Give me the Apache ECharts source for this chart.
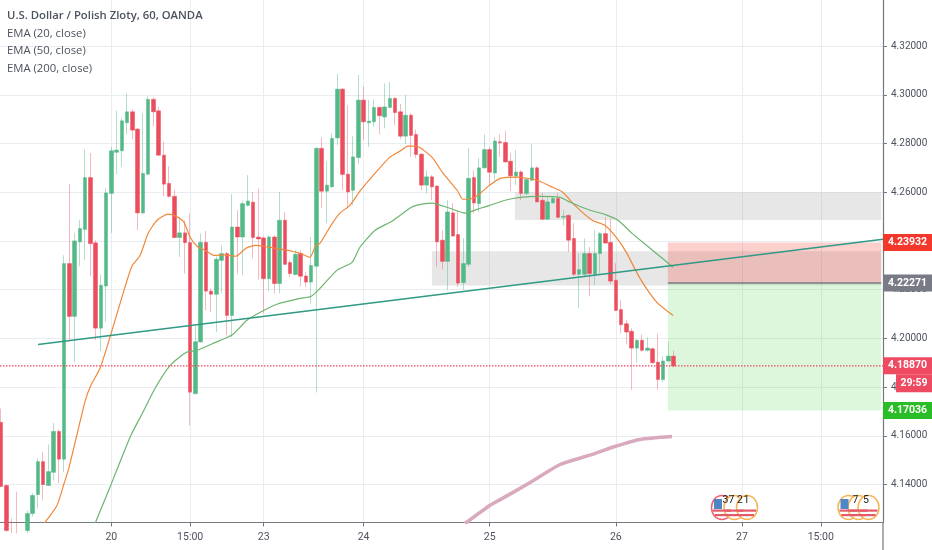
<!DOCTYPE html>
<html><head><meta charset="utf-8">
<style>html,body{margin:0;padding:0;background:#fff}#c{width:932px;height:550px}</style>
<script src="https://cdn.jsdelivr.net/npm/echarts@6/dist/echarts.min.js"></script>
</head><body><div id="c"></div>
<script>
const legendLines = ['U.S. Dollar / Polish Zloty, 60, OANDA','EMA (20, close)','EMA (50, close)','EMA (200, close)'];
const priceTicks = [4.14,4.16,4.18,4.20,4.22,4.24,4.26,4.28,4.30,4.32];
const timeTickIndex = [21,36,50,69,93,117,141,156];
const timeTickLabels = ['20','15:00','23','24','25','26','27','15:00'];
const open = [4.1655,4.1396,4.1227,4.1231,4.1225,4.1211,4.1281,4.1359,4.1494,4.1396,
4.1450,4.1618,4.1504,4.2307,4.2090,4.2396,4.2447,4.2660,4.2392,4.2042,
4.2215,4.2595,4.2764,4.2770,4.2885,4.2930,4.2859,4.2515,4.2674,4.2981,
4.2934,4.2752,4.2636,4.2583,4.2414,4.2433,4.2393,4.1773,4.1985,4.2394,
4.2194,4.2181,4.2320,4.2348,4.2094,4.2457,4.2416,4.2546,4.2559,4.2416,
4.2412,4.2245,4.2416,4.2225,4.2485,4.2311,4.2262,4.2349,4.2256,4.2231,
4.2296,4.2780,4.2604,4.2622,4.2823,4.3023,4.2674,4.2608,4.2742,4.2978,
4.2885,4.2889,4.2948,4.2909,4.2948,4.2985,4.2930,4.2830,4.2916,4.2837,
4.2756,4.2629,4.2663,4.2625,4.2403,4.2316,4.2515,4.2426,4.2229,4.2304,
4.2660,4.2553,4.2700,4.2775,4.2679,4.2807,4.2804,4.2727,4.2666,4.2683,
4.2595,4.2649,4.2700,4.2567,4.2489,4.2556,4.2574,4.2497,4.2505,4.2410,
4.2263,4.2263,4.2348,4.2263,4.2348,4.2430,4.2394,4.2238,4.2118,4.2060,
4.2029,4.1960,4.1992,4.1951,4.1957,4.1902,4.1831,4.1907,4.1927];
const close = [4.1392,4.1211,4.1202,4.1210,4.1215,4.1281,4.1355,4.1494,4.1400,4.1453,
4.1618,4.1504,4.2307,4.2090,4.2400,4.2451,4.2660,4.2389,4.2042,4.2218,
4.2597,4.2770,4.2773,4.2893,4.2930,4.2855,4.2515,4.2677,4.2981,4.2930,
4.2752,4.2633,4.2583,4.2414,4.2433,4.2393,4.1779,4.1986,4.2394,4.2194,
4.2181,4.2325,4.2348,4.2094,4.2457,4.2416,4.2553,4.2564,4.2414,4.2408,
4.2245,4.2416,4.2225,4.2485,4.2304,4.2266,4.2345,4.2255,4.2231,4.2299,
4.2780,4.2604,4.2629,4.2821,4.3023,4.2673,4.2601,4.2745,4.2978,4.2889,
4.2892,4.2948,4.2914,4.2950,4.2985,4.2927,4.2830,4.2916,4.2833,4.2755,
4.2629,4.2663,4.2622,4.2396,4.2316,4.2519,4.2420,4.2227,4.2307,4.2657,
4.2556,4.2700,4.2775,4.2682,4.2810,4.2803,4.2724,4.2667,4.2683,4.2595,
4.2652,4.2700,4.2560,4.2489,4.2560,4.2574,4.2497,4.2501,4.2403,4.2263,
4.2282,4.2348,4.2266,4.2348,4.2430,4.2391,4.2235,4.2115,4.2056,4.2026,
4.1960,4.1992,4.1951,4.1960,4.1900,4.1831,4.1907,4.1927,4.1887];
const low = [4.1390,4.1205,4.1200,4.1200,4.1200,4.1200,4.1268,4.1302,4.1334,4.1394,
4.1416,4.1405,4.1450,4.1992,4.1902,4.2296,4.2320,4.2255,4.1992,4.1948,
4.2067,4.2433,4.2674,4.2704,4.2838,4.2817,4.2444,4.2509,4.2670,4.2871,
4.2748,4.2583,4.2579,4.2411,4.2334,4.2266,4.1642,4.1770,4.1983,4.2115,
4.2108,4.2026,4.2185,4.2012,4.2005,4.2263,4.2259,4.2542,4.2329,4.2241,
4.2103,4.2194,4.2184,4.2185,4.2300,4.2252,4.2259,4.2214,4.2211,4.2142,
4.1778,4.2534,4.2473,4.2620,4.2793,4.2608,4.2534,4.2546,4.2715,4.2814,
4.2785,4.2868,4.2838,4.2862,4.2945,4.2875,4.2817,4.2797,4.2745,4.2740,
4.2608,4.2596,4.2567,4.2293,4.2282,4.2197,4.2419,4.2211,4.2200,4.2293,
4.2514,4.2519,4.2698,4.2629,4.2649,4.2745,4.2723,4.2605,4.2629,4.2567,
4.2588,4.2645,4.2559,4.2485,4.2485,4.2555,4.2493,4.2464,4.2355,4.2255,
4.2124,4.2255,4.2172,4.2218,4.2267,4.2390,4.2222,4.2111,4.2020,4.1975,
4.1789,4.1902,4.1946,4.1946,4.1897,4.1789,4.1820,4.1905,4.1881];
const high = [4.1712,4.1400,4.1260,4.1371,4.1235,4.1293,4.1364,4.1507,4.1535,4.1564,
4.1652,4.1626,4.2341,4.2633,4.2433,4.2485,4.2775,4.2761,4.2403,4.2263,
4.2616,4.2786,4.2934,4.2904,4.3006,4.2940,4.2863,4.2923,4.2994,4.2989,
4.2950,4.2807,4.2707,4.2608,4.2498,4.2485,4.2512,4.2053,4.2430,4.2441,
4.2205,4.2337,4.2382,4.2355,4.2592,4.2526,4.2564,4.2670,4.2601,4.2615,
4.2419,4.2423,4.2423,4.2601,4.2519,4.2320,4.2362,4.2362,4.2271,4.2416,
4.2786,4.2825,4.2727,4.2841,4.3085,4.3027,4.2957,4.2830,4.3081,4.3035,
4.2978,4.2981,4.2953,4.3047,4.3053,4.2990,4.2962,4.2999,4.2925,4.2858,
4.2760,4.2690,4.2670,4.2629,4.2444,4.2567,4.2556,4.2526,4.2411,4.2782,
4.2690,4.2740,4.2838,4.2785,4.2825,4.2838,4.2852,4.2760,4.2773,4.2690,
4.2657,4.2797,4.2707,4.2596,4.2579,4.2583,4.2596,4.2526,4.2509,4.2472,
4.2349,4.2410,4.2375,4.2444,4.2436,4.2497,4.2493,4.2308,4.2156,4.2074,
4.2041,4.1996,4.2016,4.2004,4.1963,4.2019,4.1926,4.1987,4.1950];
const ema20 = [[8.2,4.1240],[10.65,4.1314],[12,4.1404],[12.9,4.1466],[14.65,4.1622],[16,4.1741],[17.1,4.1807],[18.85,4.1877],[20.9,4.2016],[23,4.2168],[24.9,4.2296],[26.45,4.2339],[28,4.2431],[29.7,4.2485],[31.8,4.2510],[33.3,4.2501],[34.8,4.2477],[36,4.2415],[37.3,4.2378],[38.8,4.2362],[40.5,4.2341],[42.6,4.2343],[44.7,4.2337],[46.6,4.2370],[48.5,4.2382],[50,4.2378],[52.1,4.2370],[54.4,4.2362],[56.9,4.2349],[58.8,4.2333],[59.9,4.2382],[60.7,4.2390],[62.8,4.2464],[64.5,4.2514],[66.4,4.2546],[68.3,4.2604],[71.2,4.2678],[74,4.2744],[75.9,4.2768],[77.4,4.2789],[79,4.2789],[82,4.2744],[84.1,4.2678],[86.8,4.2608],[87.9,4.2571],[89.8,4.2575],[91.2,4.2596],[93,4.2629],[95,4.2657],[98.2,4.2662],[102,4.2649],[104.5,4.2625],[106.9,4.2600],[109.2,4.2546],[112.5,4.2485],[114.9,4.2464],[117.2,4.2411],[119.1,4.2349],[121.6,4.2246],[124.8,4.2148],[127.9,4.2094]];
const ema50 = [[17.9,4.1240],[20.7,4.1387],[24.7,4.1601],[26.8,4.1688],[29.3,4.1794],[32.2,4.1889],[35.2,4.1942],[37.3,4.1951],[40.3,4.1979],[44.1,4.2016],[46.8,4.2074],[49.7,4.2111],[52.5,4.2140],[56.9,4.2164],[59,4.2172],[60.7,4.2205],[63.9,4.2279],[66.8,4.2312],[68.3,4.2374],[71.2,4.2444],[74.4,4.2481],[77.8,4.2534],[79,4.2546],[82,4.2555],[85.4,4.2534],[88.3,4.2514],[91.2,4.2534],[93,4.2546],[95.9,4.2567],[98.8,4.2579],[102.6,4.2583],[106.4,4.2579],[108.3,4.2559],[112.1,4.2526],[114.9,4.2509],[117.4,4.2485],[120.1,4.2431],[123.5,4.2370],[127.9,4.2292]];
const ema200 = [[88.3,4.1240],[93,4.1314],[95,4.1338],[100.7,4.1408],[106.4,4.1482],[113,4.1527],[116.8,4.1556],[121.6,4.1585],[127.7,4.1597]];
const trendLine = [[7.04,4.1975],[167.84,4.2407]];
const currentPrice = 4.1887;
const targetPrice = 4.23932, entryPrice = 4.22271, lastLabelPrice = 4.18870, stopPrice = 4.17036;
const xMin = -0.19, xMax = 167.84, yMin = 4.1244, yMax = 4.3389;
const grayZones = [[82,167.5,4.2217,4.2358],[97.8,167.5,4.2486,4.2600]];
const riskZone = [126.9,167.5,4.22271,4.23932];
const rewardZone = [126.9,167.5,4.17036,4.22271];
const countdownText = '29:59';
const eventGroups = [{labels:['37','2','1'],lx:[728.5,740,746.5],xs:[722,734.5,747],ring:['#ef5f72','#f5b556','#f5b556']},
                     {labels:['7','5'],lx:[855.5,866],xs:[848.5,858.5,868.5],ring:['#f5b556','#f5b556','#f5b556']}];

const up='#53b987', down='#eb4d5c', upWick='rgba(83,185,135,0.45)', downWick='rgba(235,77,92,0.4)';
const txt='#4c525e', axisCol='#75787f', gridCol='#e9edf2';
const FONT='Roboto,sans-serif';
const wickData = open.map((o,i)=>[i,o,close[i],low[i],high[i]]);
const bodyData = open.map((o,i)=>[i,o,close[i],Math.min(o,close[i]),Math.max(o,close[i])]);
const chart = echarts.init(document.getElementById('c'),null,{renderer:'canvas'});

function priceBox(price,color,text){return {coord:[xMax,price],symbol:'rect',symbolSize:[49,17],symbolOffset:[24.5,0],
  itemStyle:{color},label:{show:true,position:'inside',formatter:text,color:'#fff',fontFamily:FONT,fontSize:10.5,fontWeight:'bold'}};}
function dummy(name,extra){return Object.assign({type:'line',name,data:[],silent:true,animation:false},extra);}

const gfx=[];
eventGroups.forEach(g=>{
  g.xs.forEach((x,k)=>{
    gfx.push({type:'ellipse',shape:{cx:x,cy:507.5,rx:10.5,ry:12},style:{fill:'#fff',stroke:g.ring[k],lineWidth:1.5},z:20});
  });
  gfx.push({type:'rect',shape:{x:g.xs[0]-8,y:499,width:8,height:10},style:{fill:'#4f86c6'},z:21});
  g.xs.forEach(x=>{
    gfx.push({type:'rect',shape:{x:x-9,y:509.5,width:18,height:2.2},style:{fill:'#e25b66'},z:21});
    gfx.push({type:'rect',shape:{x:x-7,y:514,width:14,height:2.2},style:{fill:'#e25b66'},z:21});
  });
  g.labels.forEach((t,k)=>gfx.push({type:'text',style:{x:g.lx[k],y:500,text:t,fill:'#222',font:'10.5px '+FONT,textAlign:'center',textVerticalAlign:'middle'},z:22}));
});
gfx.push({type:'line',shape:{x1:883,y1:522,x2:883,y2:550},style:{stroke:axisCol,lineWidth:1.2},z:5});

chart.setOption({
  animation:false,
  backgroundColor:'#fff',
  title:legendLines.map((t,k)=>({text:t,left:7,top:[10.5,28,45.5,63][k],padding:0,
    textStyle:{color:txt,fontFamily:'"Open Sans",sans-serif',fontSize:11.3,fontWeight:k==0?600:400}})),
  grid:{left:0,right:49,top:0,height:522.5,containLabel:false},
  xAxis:{type:'value',min:xMin,max:xMax,
    axisLine:{lineStyle:{color:axisCol,width:1.2},onZero:false},
    axisTick:{customValues:timeTickIndex,length:4,lineStyle:{color:axisCol}},
    splitLine:{show:true,lineStyle:{color:gridCol,width:1}},
    axisLabel:{customValues:timeTickIndex,formatter:v=>timeTickLabels[timeTickIndex.indexOf(v)]||'',color:txt,fontFamily:FONT,fontSize:10.5,margin:9}},
  yAxis:{type:'value',position:'right',min:yMin,max:yMax,scale:true,
    axisLine:{show:true,onZero:false,lineStyle:{color:axisCol,width:1.2}},
    axisTick:{show:true,customValues:priceTicks,length:4,lineStyle:{color:axisCol}},
    splitLine:{show:true,lineStyle:{color:gridCol,width:1}},
    axisLabel:{customValues:priceTicks,formatter:v=>v.toFixed(5),color:txt,fontFamily:FONT,fontSize:10,margin:8}},
  series:[
    dummy('zones',{z:1,markArea:{silent:true,data:grayZones.map(z=>[{coord:[z[0],z[2]],itemStyle:{color:'rgba(120,120,120,0.18)'}},{coord:[z[1],z[3]]}])}}),
    {type:'candlestick',name:'wick',data:wickData,barWidth:1,z:2,silent:true,
      itemStyle:{color:upWick,color0:downWick,borderColor:upWick,borderColor0:downWick,borderWidth:1}},
    {type:'candlestick',name:'body',data:bodyData,barWidth:4,z:3,silent:true,
      itemStyle:{color:up,color0:down,borderColor:up,borderColor0:down,borderWidth:0.5}},
    {type:'line',name:'EMA 20',data:ema20,smooth:0.2,showSymbol:false,z:4,lineStyle:{color:'#f0883a',width:1.2},silent:true},
    {type:'line',name:'EMA 50',data:ema50,smooth:0.2,showSymbol:false,z:4,lineStyle:{color:'#6cb56f',width:1.2},silent:true},
    {type:'line',name:'EMA 200',data:ema200,smooth:0.2,showSymbol:false,z:4,lineStyle:{color:'#d9a9be',width:3.5},silent:true},
    dummy('position',{z:1,markArea:{silent:true,data:[
      [{coord:[riskZone[0],riskZone[2]],itemStyle:{color:'rgba(244,67,54,0.25)'}},{coord:[riskZone[1],riskZone[3]]}],
      [{coord:[rewardZone[0],rewardZone[2]],itemStyle:{color:'rgba(80,215,80,0.2)'}},{coord:[rewardZone[1],rewardZone[3]]}]]},
      markLine:{silent:true,symbol:'none',label:{show:false},lineStyle:{color:'#787b86',width:1.5,type:'solid'},data:[[{coord:[riskZone[0],entryPrice]},{coord:[riskZone[1],entryPrice]}]]}}),
    {type:'line',name:'Trend',data:trendLine,showSymbol:false,z:5,lineStyle:{color:'#2f9a85',width:1.4},silent:true},
    {type:'line',name:'Price',data:[[xMin,currentPrice],[xMax,currentPrice]],showSymbol:false,z:5,lineStyle:{color:'#ef4560',width:1.2,type:[1.5,1.5]},silent:true,
      markPoint:{silent:true,z:30,data:[
        priceBox(targetPrice,'#f4372b',targetPrice.toFixed(5)),
        priceBox(entryPrice,'#787b86',entryPrice.toFixed(5)),
        priceBox(lastLabelPrice,'#ee4a62',lastLabelPrice.toFixed(5)),
        priceBox(stopPrice,'#2bbd27',stopPrice.toFixed(5)),
        {coord:[xMax,lastLabelPrice],symbol:'rect',symbolSize:[36,18],symbolOffset:[31,17.5],itemStyle:{color:'#ee4a62'},
         label:{show:true,position:'inside',formatter:countdownText,color:'#fff',fontFamily:FONT,fontSize:10.5,fontWeight:'bold'}}
      ]}}
  ],
  graphic:gfx
});
</script></body></html>
